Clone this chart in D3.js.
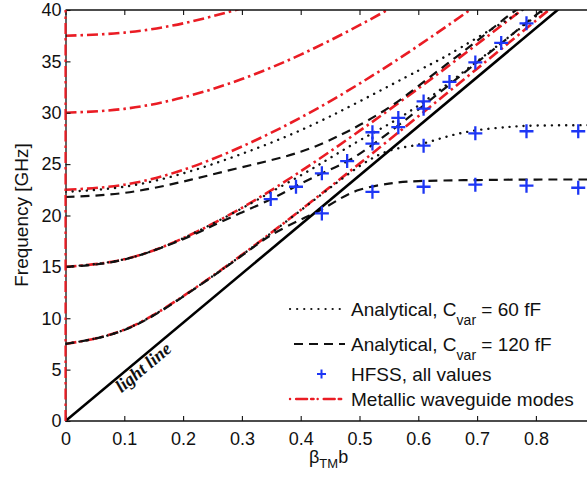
<!DOCTYPE html>
<html>
<head>
<meta charset="utf-8">
<script src="https://cdn.jsdelivr.net/npm/d3@7/dist/d3.min.js"></script>
<style>
  html, body { margin: 0; padding: 0; background: #fff; }
  svg { display: block; }
  text { font-family: "Liberation Sans", Arial, sans-serif; fill: #111; }
</style>
</head>
<body>
<svg id="chart" width="587" height="479"></svg>
<script>
// ---------- data ----------
const xTicks = [0, 0.1, 0.2, 0.3, 0.4, 0.5, 0.6, 0.7, 0.8];
const xTickLabels = ["0", "0.1", "0.2", "0.3", "0.4", "0.5", "0.6", "0.7", "0.8"];
const yTicks = [0, 5, 10, 15, 20, 25, 30, 35, 40];
const yTickLabels = ["0", "5", "10", "15", "20", "25", "30", "35", "40"];

// light line
const lightBeta = [0, 0.9];
const lightFreq = [0, 43.02];

// metallic waveguide modes (red dash-dot)
const wgBeta1 = [0, 0.1, 0.2, 0.3, 0.4, 0.5, 0.6, 0.7, 0.8, 0.9];
const wgFreq1 = [7.5, 8.89, 12.15, 16.17, 20.54, 25.05, 29.65, 34.29, 38.97, 43.67];
const wgBeta2 = [0, 0.1, 0.2, 0.3, 0.4, 0.5, 0.6, 0.7, 0.8];
const wgFreq2 = [15, 15.74, 17.79, 20.75, 24.30, 28.23, 32.36, 36.67, 41.07];
const wgBeta3 = [0, 0.1, 0.2, 0.3, 0.4, 0.5, 0.6, 0.7];
const wgFreq3 = [22.5, 23.0, 24.44, 26.71, 29.53, 32.83, 36.52, 40.49];
const wgBeta4 = [0, 0.1, 0.2, 0.3, 0.4, 0.5, 0.6];
const wgFreq4 = [30, 30.38, 31.49, 33.28, 35.66, 38.52, 41.7];
const wgBeta5 = [0, 0.1, 0.2, 0.3];
const wgFreq5 = [37.5, 37.8, 38.7, 40.17];
const wgVertBeta = [0, 0];
const wgVertFreq = [0, 40];

// analytical, Cvar = 120 fF (dashed)
const d1Beta = [0, 0.1, 0.2, 0.3, 0.35, 0.4, 0.43, 0.46, 0.5, 0.55, 0.6, 0.7, 0.8, 0.9];
const d1Freq = [7.5, 8.85, 12.1, 16.1, 18.1, 19.6, 20.4, 21.4, 22.5, 23.1, 23.35, 23.45, 23.5, 23.5];
const d2Beta = [0, 0.1, 0.2, 0.25, 0.3, 0.35, 0.39, 0.436, 0.48, 0.52, 0.56, 0.6, 0.65, 0.7, 0.74, 0.78, 0.82];
const d2Freq = [15, 15.72, 17.7, 19.0, 20.3, 21.6, 22.8, 24.1, 25.3, 26.8, 28.5, 30.3, 32.6, 34.9, 36.7, 38.6, 40.4];
const d3Beta = [0, 0.1, 0.2, 0.3, 0.4, 0.47, 0.5, 0.55, 0.6, 0.65, 0.7, 0.75, 0.78];
const d3Freq = [21.8, 22.2, 23.3, 24.7, 26.2, 27.9, 28.8, 30.5, 32.6, 34.8, 37.0, 39.3, 40.5];

// analytical, Cvar = 60 fF (dotted)
const t1Beta = [0, 0.1, 0.2, 0.3, 0.4, 0.45, 0.5, 0.55, 0.6, 0.65, 0.7, 0.75, 0.8, 0.9];
const t1Freq = [7.5, 8.88, 12.13, 16.15, 20.5, 22.7, 24.8, 26.3, 26.9, 27.7, 28.3, 28.6, 28.75, 28.8];
const t2Beta = [0, 0.1, 0.2, 0.3, 0.35, 0.4, 0.45, 0.5, 0.55, 0.6, 0.65, 0.7, 0.75, 0.8, 0.83];
const t2Freq = [15, 15.74, 17.79, 20.7, 22.3, 23.9, 25.6, 27.3, 28.9, 30.7, 32.8, 35.0, 37.2, 39.4, 40.7];
const t3Beta = [0, 0.1, 0.2, 0.3, 0.4, 0.5, 0.6, 0.65, 0.7, 0.75, 0.78];
const t3Freq = [22.3, 22.8, 24.1, 26.0, 28.3, 31.1, 34.1, 35.6, 37.3, 39.0, 40.1];

// HFSS, all values
const hfssBeta = [0.349, 0.392, 0.436, 0.436, 0.479, 0.522, 0.522, 0.522, 0.566, 0.566, 0.609, 0.609, 0.609, 0.609, 0.653, 0.697, 0.697, 0.697, 0.741, 0.784, 0.784, 0.784, 0.872, 0.872];
const hfssFreq = [21.6, 22.8, 24.1, 20.2, 25.3, 28.1, 27.0, 22.3, 29.5, 28.6, 31.1, 30.4, 26.8, 22.8, 33.0, 34.9, 28.0, 23.0, 36.8, 38.7, 28.2, 22.9, 28.2, 22.7];

const legendLabels = ["Analytical, C", "Analytical, C", "HFSS, all values", "Metallic waveguide modes"];
const legendSubs = ["var", "var", "", ""];
const legendTails = [" = 60 fF", " = 120 fF", "", ""];

// ---------- layout ----------
const svg = d3.select("#chart");
const plotLeft = 65.5, plotTop = 10, plotBottom = 421;
const x = d3.scaleLinear().domain([0, 0.9]).range([plotLeft, plotLeft + 0.9 * 588]);
const y = d3.scaleLinear().domain([0, 40]).range([plotBottom, plotTop]);

const RED = "#ea1c24", BLUE = "#1d36f5";

svg.append("defs").append("clipPath").attr("id", "clip")
  .append("rect").attr("x", plotLeft).attr("y", plotTop).attr("width", 587 - plotLeft).attr("height", plotBottom - plotTop);

const zip = (bs, fs) => bs.map((b, i) => [b, fs[i]]);
const line = d3.line().x(d => x(d[0])).y(d => y(d[1])).curve(d3.curveNatural);
const straight = d3.line().x(d => x(d[0])).y(d => y(d[1]));

const plot = svg.append("g").attr("clip-path", "url(#clip)");

// axes
const xAxisB = d3.axisBottom(x).tickValues(xTicks).tickFormat((d, i) => xTickLabels[i])
  .tickSizeInner(-5).tickSizeOuter(0).tickPadding(11);
const gxb = svg.append("g").attr("transform", `translate(0,${plotBottom})`).call(xAxisB);
const xAxisT = d3.axisTop(x).tickValues(xTicks).tickFormat("").tickSizeInner(-5).tickSizeOuter(0);
const gxt = svg.append("g").attr("transform", `translate(0,${plotTop})`).call(xAxisT);
const yAxisL = d3.axisLeft(y).tickValues(yTicks).tickFormat((d, i) => yTickLabels[i])
  .tickSizeInner(-5).tickSizeOuter(0).tickPadding(4);
const gyl = svg.append("g").attr("transform", `translate(${plotLeft},0)`).call(yAxisL);
[gxb, gxt, gyl].forEach(g => {
  g.select(".domain").attr("stroke", "#111").attr("stroke-width", 1.3);
  g.selectAll(".tick line").attr("stroke", "#111").attr("stroke-width", 1.1);
  g.selectAll(".tick text").style("font-size", "18px").attr("fill", "#111")
    .style("font-family", "'Liberation Sans', Arial, sans-serif");
});
gxt.select(".domain").attr("d", `M${plotLeft},0H587`);
gxb.select(".domain").attr("d", `M${plotLeft},0H587`);

// waveguide modes (red)
const redStyle = s => s.attr("fill", "none").attr("stroke", RED).attr("stroke-width", 2.6)
  .attr("stroke-dasharray", "11,4,2.5,4");
[[wgBeta1, wgFreq1], [wgBeta2, wgFreq2], [wgBeta3, wgFreq3], [wgBeta4, wgFreq4], [wgBeta5, wgFreq5]]
  .forEach(([b, f]) => plot.append("path").attr("d", line(zip(b, f))).call(redStyle));
svg.append("path").attr("d", straight(zip(wgVertBeta, wgVertFreq))).call(redStyle).attr("stroke-width", 2.2);

// analytical 120 fF dashed
[[d1Beta, d1Freq], [d2Beta, d2Freq], [d3Beta, d3Freq]].forEach(([b, f]) =>
  plot.append("path").attr("d", line(zip(b, f))).attr("fill", "none").attr("stroke", "#111")
    .attr("stroke-width", 2.2).attr("stroke-dasharray", "9,6"));

// analytical 60 fF dotted
[[t1Beta, t1Freq], [t2Beta, t2Freq], [t3Beta, t3Freq]].forEach(([b, f]) =>
  plot.append("path").attr("d", line(zip(b, f))).attr("fill", "none").attr("stroke", "#111")
    .attr("stroke-width", 2.4).attr("stroke-linecap", "round").attr("stroke-dasharray", "0.1,7"));

// light line
plot.append("path").attr("d", straight(zip(lightBeta, lightFreq))).attr("fill", "none")
  .attr("stroke", "#000").attr("stroke-width", 2.6);

// light line label
const angle = -Math.atan((y(0) - y(lightFreq[1])) / (x(lightBeta[1]) - x(0))) * 180 / Math.PI;
svg.append("text").attr("transform", `translate(147,372) rotate(${angle})`)
  .attr("text-anchor", "middle")
  .style("font-family", "'Liberation Serif', 'Times New Roman', serif")
  .style("font-style", "italic").style("font-weight", "bold").style("font-size", "18px")
  .text("light line");

// HFSS crosses
const cs = 7;
const crosses = plot.append("g").attr("stroke", BLUE).attr("stroke-width", 2.3);
zip(hfssBeta, hfssFreq).forEach(([b, f]) => {
  const cx = x(b), cy = y(f);
  crosses.append("path").attr("d", `M${cx - cs},${cy}H${cx + cs}M${cx},${cy - cs}V${cy + cs}`);
});

// axis labels
svg.append("text").attr("transform", "translate(28,215) rotate(-90)").attr("text-anchor", "middle")
  .style("font-size", "19px").text("Frequency [GHz]");
const xl = svg.append("text").attr("x", 309).attr("y", 463).style("font-size", "18px");
xl.append("tspan").text("β");
xl.append("tspan").attr("dy", 5).style("font-size", "13px").text("TM");
xl.append("tspan").attr("dy", -5).text("b");

// legend
const legY = [309, 344, 374, 399];
const lx0 = 290, lx1 = 345, tx = 351;
const lg = svg.append("g");
legY.forEach((ly, i) => {
  if (i === 0) lg.append("line").attr("x1", lx0).attr("x2", lx1).attr("y1", ly).attr("y2", ly)
    .attr("stroke", "#111").attr("stroke-width", 2.2).attr("stroke-linecap", "round").attr("stroke-dasharray", "0.1,7");
  if (i === 1) lg.append("line").attr("x1", lx0 + 4).attr("x2", lx1).attr("y1", ly).attr("y2", ly)
    .attr("stroke", "#111").attr("stroke-width", 2.2).attr("stroke-dasharray", "9,6");
  if (i === 2) lg.append("path").attr("d", `M${321.5 - 4.5},${ly}H${321.5 + 4.5}M321.5,${ly - 4.5}V${ly + 4.5}`)
    .attr("stroke", BLUE).attr("stroke-width", 2);
  if (i === 3) lg.append("line").attr("x1", lx0).attr("x2", lx1).attr("y1", ly).attr("y2", ly)
    .attr("stroke", RED).attr("stroke-width", 2.4).attr("stroke-dasharray", "0.1,6,11,4,2.5,4").attr("stroke-linecap", "round");
  const t = lg.append("text").attr("x", tx).attr("y", ly + 7).style("font-size", "19px");
  t.append("tspan").text(legendLabels[i]);
  if (legendSubs[i]) {
    t.append("tspan").attr("dy", 9).style("font-size", "14px").text(legendSubs[i]);
    t.append("tspan").attr("dy", -9).text(legendTails[i]);
  }
});
</script>
</body>
</html>
